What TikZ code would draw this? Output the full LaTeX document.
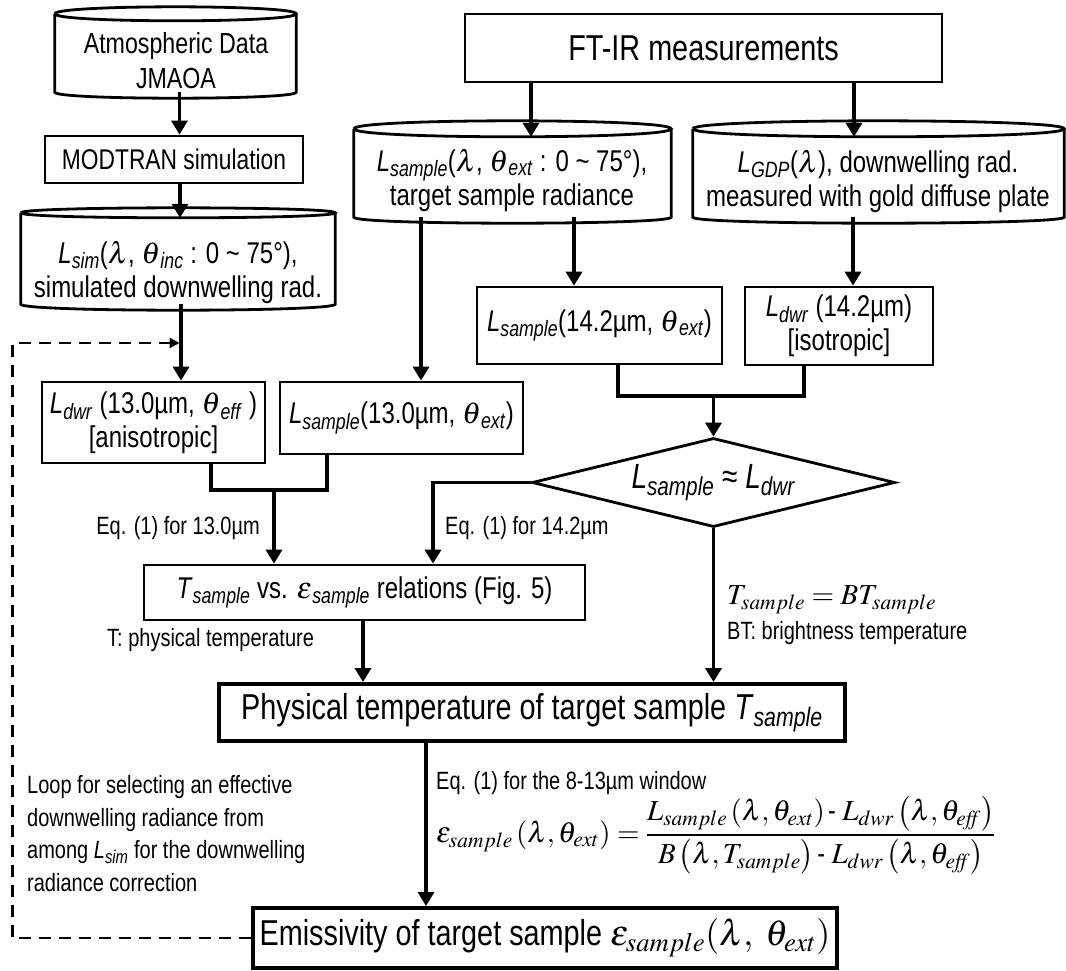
\documentclass[tikz,border=0pt]{standalone}
\usepackage{amsmath}
\usepackage{mathptmx}
\usepackage[no-math]{fontspec}
\setmainfont{Liberation Sans}[FakeStretch=0.8]
\usetikzlibrary{arrows.meta, shapes.geometric, positioning, calc}

\newcommand{\Lsub}[2]{\textit{#1}\textsubscript{\textit{#2}}}
\newcommand{\fsz}[2]{\fontsize{#1}{#2}\selectfont}
% outline of a data drum round a body node: #1 node, #2 half height of the top ellipse
\newcommand{\drum}[2]{%
  \draw[drumline] ([yshift=#2]#1.north west)
    .. controls +(0pt,1.333*#2) and +(0pt,1.333*#2) .. ([yshift=#2]#1.north east)
    .. controls +(0pt,-1.333*#2) and +(0pt,-1.333*#2) .. ([yshift=#2]#1.north west);
  \draw[drumline] ([yshift=#2]#1.north west) -- (#1.south west)
    .. controls +(0pt,-8pt) and +(0pt,-8pt) .. (#1.south east)
    -- ([yshift=#2]#1.north east);}

\begin{document}
\begin{tikzpicture}[
        x=1pt, y=-1pt,
        box/.style={rectangle, draw, line width=2.8pt, inner sep=0pt, align=center, font=\fsz{30}{34}},
        bigbox/.style={box, line width=4pt, font=\fsz{36}{40}},
        drum/.style={rectangle, inner sep=0pt},
        drumtxt/.style={align=center, inner sep=0pt, font=\fsz{30}{34}},
        drumline/.style={line width=2.8pt},
        decide/.style={diamond, draw, line width=2.8pt, aspect=4, inner sep=0pt, font=\fsz{35}{40}},
        note/.style={inner sep=0pt, align=left, font=\fsz{25}{32.5}},
        link/.style={line width=3.5pt},
        arrow/.style={link, -{Triangle[length=14pt,width=16pt]}},
        loopline/.style={line width=2.5pt, dash pattern=on 12pt off 8pt, -{Triangle[length=10pt,width=10pt]}, shorten >=1.5pt}
    ]
        \useasboundingbox (0,0) rectangle (1066,970);

        % simulation branch
        \node (atm) [drum, minimum width=241pt, minimum height=71pt] at (175.5,56.5) {};
        \node (atmtxt) [drumtxt, font=\fsz{29}{35}] at (176,61) {Atmospheric Data\\JMAOA};
        \node (modtran) [box, font=\fsz{28.5}{34}, minimum width=258pt, minimum height=47pt] at (174,159.5) {MODTRAN simulation};
        \node (lsim) [drum, minimum width=314pt, minimum height=86pt] at (178,261) {};
        \node (lsimtxt) [drumtxt] at (178,272) {\Lsub{L}{sim}($\lambda$, $\theta$\textsubscript{\textit{inc}} : 0 \textasciitilde{} 75°),\\simulated downwelling rad.};

        % measurement branch
        \node (ftir) [box, font=\fsz{36}{40}, minimum width=477pt, minimum height=68pt] at (703.5,48) {FT-IR measurements};
        \node (lsamp) [drum, minimum width=317pt, minimum height=80pt] at (512.5,177) {};
        \node (lsamptxt) [drumtxt] at (512,180) {\Lsub{L}{sample}($\lambda$, $\theta$\textsubscript{\textit{ext}} : 0 \textasciitilde{} 75°),\\target sample radiance};
        \node (lgdp) [drum, minimum width=371pt, minimum height=80pt] at (878.5,177) {};
        \node (lgdptxt) [drumtxt] at (878,181) {\Lsub{L}{GDP}($\lambda$), downwelling rad.\\measured with gold diffuse plate};

        \node (l142) [box, minimum width=245pt, minimum height=77pt] at (599.5,325.5) {\Lsub{L}{sample}(14.2µm, $\theta$\textsubscript{\textit{ext}})};
        \node (ldwr142) [box, minimum width=188pt, minimum height=78pt] at (839,326) {\Lsub{L}{dwr} (14.2µm)\\{[}isotropic]};
        \node (ldwr130) [box, minimum width=223pt, minimum height=81pt] at (153.5,422.5) {\Lsub{L}{dwr} (13.0µm, $\theta$\textsubscript{\textit{eff}} )\\{[}anisotropic]};
        \node (l130samp) [box, minimum width=243pt, minimum height=72pt] at (401.5,418) {\Lsub{L}{sample}(13.0µm, $\theta$\textsubscript{\textit{ext}})};

        \node (match) [decide, minimum width=363pt, minimum height=89pt] at (713.5,482.5) {\Lsub{L}{sample} ≈ \Lsub{L}{dwr}};
        \node (rel) [box, minimum width=441pt, minimum height=55pt] at (364.5,592.5) {\Lsub{T}{sample} vs. $\epsilon$\textsubscript{\textit{sample}} relations (Fig. 5)};
        \node (phys) [bigbox, minimum width=626pt, minimum height=57pt] at (532,712.5) {Physical temperature of target sample \Lsub{T}{sample}};
        \node (emis) [bigbox, minimum width=584pt, minimum height=60pt] at (545,938) {Emissivity of target sample $\epsilon_{sample}(\lambda,\ \theta_{ext})$};

        \drum{atm}{7pt}
        \drum{lsim}{5pt}
        \drum{lsamp}{8pt}
        \drum{lgdp}{8pt}

        % labels
        \node (eq13) [note, anchor=east] at (260,528) {Eq. (1) for 13.0µm};
        \node (eq14) [note, anchor=west] at (445,528) {Eq. (1) for 14.2µm};
        \node (tnote) [note, anchor=west] at (107,640) {T: physical temperature};
        \node (tbt) [note, anchor=west, font=\fsz{29}{32}] at (727,600) {$T_{sample} = BT_{sample}$};
        \node (btnote) [note, anchor=west] at (727,633) {BT: brightness temperature};
        \node (eq813) [note, anchor=west] at (436,783) {Eq. (1) for the 8-13µm window};
        \node (emieq) [note, anchor=west, font=\fsz{29}{34}] at (436,835) {$\epsilon_{sample}\left(\lambda,\theta_{ext}\right)=\dfrac{L_{sample}\left(\lambda,\theta_{ext}\right)\mbox{-}\;L_{dwr}\left(\lambda,\theta_{\mathit{eff}}\right)}{B\left(\lambda,T_{sample}\right)\mbox{-}\;L_{dwr}\left(\lambda,\theta_{\mathit{eff}}\right)}$};
        \node (loopnote) [note, anchor=west] at (27,833.5) {Loop for selecting an effective\\downwelling radiance from\\among \Lsub{L}{sim} for the downwelling\\radiance correction};

        % connectors
        \draw [arrow] ([xshift=4pt]atm.south) -- ([xshift=4pt]atm.south |- modtran.north);
        \draw [arrow] ([xshift=6pt]modtran.south) -- ([xshift=6pt]modtran.south |- lsim.north);
        \coordinate (drop) at ([xshift=3pt]lsim.south);
        \draw [arrow] (drop) -- (drop |- ldwr130.north);
        \draw [arrow] ([xshift=-172.5pt]ftir.south) -- ([xshift=-172.5pt]ftir.south |- lsamp.north);
        \draw [arrow] ([xshift=150.5pt]ftir.south) -- ([xshift=150.5pt]ftir.south |- lgdp.north);
        \draw [arrow] ([xshift=-91.5pt]lsamp.south) -- ([xshift=-91.5pt]lsamp.south |- l130samp.north);
        \draw [arrow] ([xshift=61.5pt]lsamp.south) -- ([xshift=61.5pt]lsamp.south |- l142.north);
        \draw [arrow] ([xshift=-25.5pt]lgdp.south) -- ([xshift=-25.5pt]lgdp.south |- ldwr142.north);

        \coordinate (jn14) at (713.5,396);
        \draw [link] ([xshift=18.5pt]l142.south) |- (jn14) -| ([xshift=-35pt]ldwr142.south);
        \draw [arrow] (jn14) -- (match.north);
        \coordinate (jn13) at (274,490);
        \draw [link] ([xshift=57.5pt]ldwr130.south) |- (jn13) -| ([xshift=-74.5pt]l130samp.south);
        \draw [arrow] (jn13) -- (jn13 |- rel.north);

        \draw [arrow] (match.west) -| ([xshift=68.5pt]rel.north);
        \draw [arrow] (match.south) -- (match.south |- phys.north);
        \draw [arrow] ([xshift=-1.5pt]rel.south) -- ([xshift=-1.5pt]rel.south |- phys.north);
        \draw [arrow] ([xshift=-106pt]phys.south) -- ([xshift=-106pt]phys.south |- emis.north);

        \coordinate (loop) at (12.5,343);
        \draw [loopline] (emis.west) -| (loop) -- (loop -| drop);
\end{tikzpicture}
\end{document}
